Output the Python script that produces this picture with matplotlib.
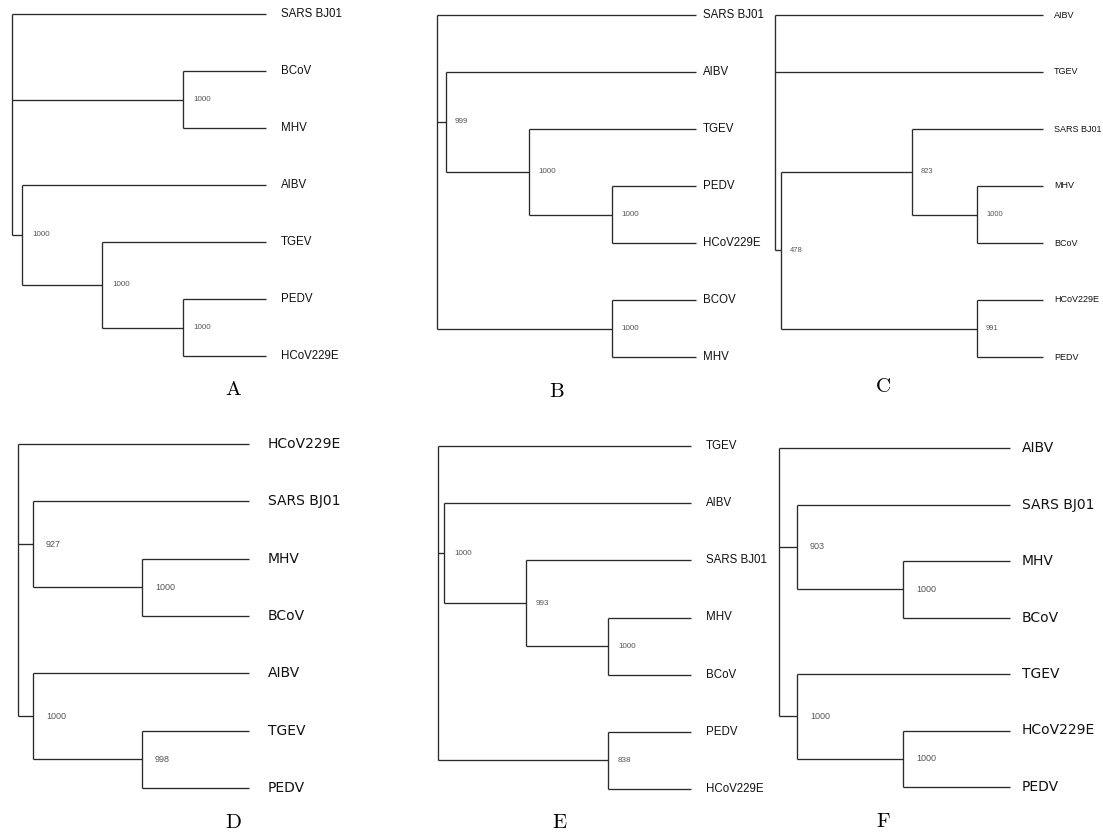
import matplotlib
matplotlib.use("Agg")
from matplotlib import pyplot as plt

# Six bootstrap consensus trees (Newick), branch lengths as drawn, node labels = bootstrap
tree_a = "(SARS BJ01:254,(BCoV:83,MHV:83)1000:171,(AIBV:244,(TGEV:164,(PEDV:83,HCoV229E:83)1000:81)1000:80)1000:10);"
tree_b = "(SARS BJ01:259,(AIBV:250,(TGEV:167,(PEDV:84,HCoV229E:84)1000:83)1000:83)999:9,(BCOV:84,MHV:84)1000:175);"
tree_c = "(AIBV:268,TGEV:268,((SARS BJ01:131,(MHV:66,BCoV:66)1000:65)823:131,(HCoV229E:66,PEDV:66)991:196)478:6);"
tree_d = "(HCoV229E:231,(SARS BJ01:216,(MHV:107,BCoV:107)1000:109)927:15,(AIBV:216,(TGEV:107,PEDV:107)998:109)1000:15);"
tree_e = "(TGEV:253,(AIBV:247,(SARS BJ01:165,(MHV:83,BCoV:83)1000:82)993:82)1000:6,(PEDV:83,HCoV229E:83)838:170);"
tree_f = "(AIBV:231,(SARS BJ01:213,(MHV:107,BCoV:107)1000:106)903:18,(TGEV:213,(HCoV229E:107,PEDV:107)1000:106)1000:18);"

trees = [tree_a, tree_b, tree_c, tree_d, tree_e, tree_f]
panel_letters = ["A", "B", "C", "D", "E", "F"]

W, H = 1103, 833
# panel boxes in pixels: root x, tip x, top leaf y, bottom leaf y
boxes = [(12, 266, 14, 356), (437, 696, 15, 357), (775, 1043, 15, 357),
         (18, 249, 444, 788), (438, 691, 446, 789), (779, 1010, 448, 787)]
letter_pos = [(233, 390), (557, 392), (883, 387), (233, 823), (559, 823), (883, 822)]
# leaf font, leaf size, bootstrap font, bootstrap size, leaf offset px, bootstrap offset px
ARIAL = ["Liberation Sans", "DejaVu Sans"]
styles = [(ARIAL, 8.3, ARIAL, 5.8, 15, 10),
          (ARIAL, 8.3, ARIAL, 5.8, 7, 9),
          (ARIAL, 6.5, ARIAL, 5.4, 11, 9),
          (["DejaVu Sans"], 10, ARIAL, 6.5, 19, 13),
          (ARIAL, 8.3, ARIAL, 5.8, 15, 10),
          (["DejaVu Sans"], 10, ARIAL, 6.5, 12, 13)]

LINE = "#2a2a2a"
PX = 72.0 / 100  # points per pixel


def parse_newick(s):
    s = s.strip().rstrip(";")
    pos = 0

    def node():
        nonlocal pos
        children = []
        if s[pos] == "(":
            pos += 1
            children.append(node())
            while s[pos] == ",":
                pos += 1
                children.append(node())
            pos += 1  # closing bracket
        start = pos
        while pos < len(s) and s[pos] not in ":,)":
            pos += 1
        name = s[start:pos]
        length = 0.0
        if pos < len(s) and s[pos] == ":":
            pos += 1
            start = pos
            while pos < len(s) and s[pos] not in ",)":
                pos += 1
            length = float(s[start:pos])
        return {"name": name, "length": length, "children": children}

    return node()


def layout(nd, x0, counter):
    nd["x"] = x0 + nd["length"]
    if not nd["children"]:
        nd["y"] = counter[0]
        counter[0] += 1
    else:
        for ch in nd["children"]:
            layout(ch, nd["x"], counter)
        nd["y"] = (nd["children"][0]["y"] + nd["children"][-1]["y"]) / 2
    return nd


def draw(ax, nd, style, is_root=True):
    font, leaf_size, boot_font, boot_size, leaf_off, boot_off = style
    kw = dict(color=LINE, lw=0.95, clip_on=False, solid_capstyle="butt")
    if not nd["children"]:
        ax.annotate(nd["name"], (nd["x"], nd["y"]), xytext=(leaf_off * PX, 0),
                    textcoords="offset points", ha="left", va="center",
                    fontsize=leaf_size, family=font, color="#111111")
        return
    ys = [ch["y"] for ch in nd["children"]]
    ax.plot([nd["x"], nd["x"]], [min(ys), max(ys)], **kw)
    for ch in nd["children"]:
        ax.plot([nd["x"], ch["x"]], [ch["y"], ch["y"]], **kw)
        draw(ax, ch, style, is_root=False)
    if not is_root and nd["name"]:
        ax.annotate(nd["name"], (nd["x"], nd["y"]), xytext=(boot_off * PX, 0),
                    textcoords="offset points", ha="left", va="center",
                    fontsize=boot_size, family=boot_font, color="#555555")


def depth(nd):
    if not nd["children"]:
        return nd["x"]
    return max(depth(ch) for ch in nd["children"])


fig = plt.figure(figsize=(W / 100, H / 100), dpi=100)

for newick, box, style, letter, lp in zip(trees, boxes, styles, panel_letters, letter_pos):
    root = layout(parse_newick(newick), 0.0, [0])
    x0, x1, y0, y1 = box
    ax = fig.add_axes([x0 / W, 1 - y1 / H, (x1 - x0) / W, (y1 - y0) / H])
    ax.set_xlim(0, depth(root))
    ax.set_ylim(6, 0)
    ax.axis("off")
    draw(ax, root, style)
    fig.text(lp[0] / W, 1 - lp[1] / H, letter, ha="center", va="center",
             fontsize=15, family="cmr10")

fig.savefig("out.png", dpi=100)
